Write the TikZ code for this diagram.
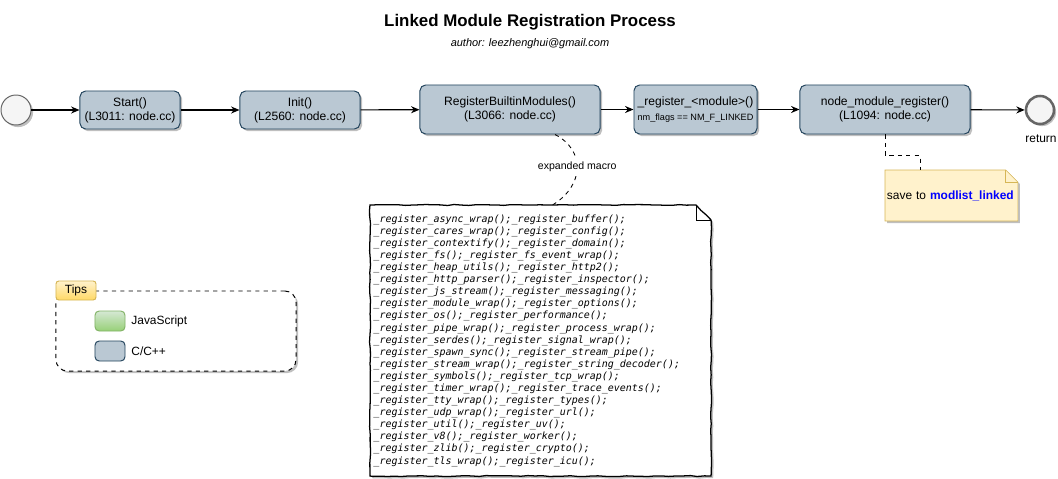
\documentclass[tikz,border=0pt]{standalone}
\usepackage{fontspec}
\setmainfont{Liberation Sans}
\setmonofont{DejaVu Sans Mono}
\usepackage{xcolor}
\usetikzlibrary{positioning, shapes, arrows.meta, calc, shadows, backgrounds, decorations.pathmorphing}

\definecolor{cfill}{HTML}{BAC8D3}
\definecolor{cline}{HTML}{23445D}
\definecolor{jstop}{HTML}{D5E8D4}
\definecolor{jsbot}{HTML}{97D077}
\definecolor{jsline}{HTML}{82B366}
\definecolor{notefill}{HTML}{FFF2CC}
\definecolor{noteline}{HTML}{D6B656}
\definecolor{tabbot}{HTML}{FFD966}
\definecolor{circline}{HTML}{666666}
\definecolor{circfill}{HTML}{F5F5F5}

\newcommand{\rg}[1]{\_register\_#1();}

\begin{document}
\begin{tikzpicture}[x=0.025cm, y=-0.025cm, line width=0.7pt,
    sketch/.style={decorate, decoration={random steps, segment length=5pt, amplitude=0.35pt}},
    shade/.style={drop shadow={shadow xshift=1.5pt, shadow yshift=-1.5pt, opacity=0.25, fill=black}},
    func/.style={draw=cline, fill=cfill, rounded corners=4pt, shade, align=center,
      inner sep=0pt, font=\fontsize{8.6}{10}\selectfont},
    flow/.style={-{Stealth[length=6pt, width=5pt]}, line width=0.8pt},
    txt/.style={inner sep=1pt, font=\fontsize{8.5}{10}\selectfont}]
    \useasboundingbox (0,0) rectangle (1058,479);

    % title
    \node[font=\fontsize{12}{14}\selectfont\bfseries] (title) at (530,22) {Linked Module Registration Process};
    \node[font=\fontsize{7.8}{9}\selectfont\itshape] (author) at (530,44) {author: leezhenghui@gmail.com};

    % main call chain
    \node[circle, draw=circline, fill=circfill, minimum size=0.75cm, shade] (begin) at (16,110) {};
    \node[func, minimum width=2.5cm, minimum height=0.95cm] (start) at (130,110) {Start()\\(L3011: node.cc)};
    \node[func, minimum width=3cm, minimum height=0.95cm] (init) at (300,110) {Init()\\(L2560: node.cc)};
    \node[func, minimum width=4.5cm, minimum height=1.225cm] (rbm) at (510,109.5) {RegisterBuiltinModules()\\(L3066: node.cc)};
    \node[func, minimum width=3.075cm, minimum height=1.225cm] (reg) at (695.5,109.5)
      {\_register\_<module>()\\[1pt]{\fontsize{6.5}{8}\selectfont nm\_flags == NM\_F\_LINKED}};
    \node[func, minimum width=4.25cm, minimum height=1.225cm] (nmr) at (885,109.5) {node\_module\_register()\\(L1094: node.cc)};
    \node[circle, draw=circline, line width=1.8pt, fill=circfill, minimum size=0.7cm, shade] (ret) at (1040,110) {};
    \node[txt] (retlbl) at (1041,139) {return};

    \draw[flow] (begin) -- (start);
    \draw[flow] (start) -- (init);
    \draw[flow] (init) -- (rbm);
    \draw[flow] (rbm) -- (reg);
    \draw[flow] (reg) -- (nmr);
    \draw[flow] (nmr) -- (ret);

    % expanded macro note
    \node[anchor=north west, text width=8.35cm, inner xsep=0.075cm, inner ysep=0pt,
      minimum height=6.75cm, align=left, font=\fontsize{7.1}{8.6}\selectfont\ttfamily\itshape] (macros) at (370,205)
      {\rg{async\_wrap}\rg{buffer}\\
       \rg{cares\_wrap}\rg{config}\\
       \rg{contextify}\rg{domain}\\
       \rg{fs}\rg{fs\_event\_wrap}\\
       \rg{heap\_utils}\rg{http2}\\
       \rg{http\_parser}\rg{inspector}\\
       \rg{js\_stream}\rg{messaging}\\
       \rg{module\_wrap}\rg{options}\\
       \rg{os}\rg{performance}\\
       \rg{pipe\_wrap}\rg{process\_wrap}\\
       \rg{serdes}\rg{signal\_wrap}\\
       \rg{spawn\_sync}\rg{stream\_pipe}\\
       \rg{stream\_wrap}\rg{string\_decoder}\\
       \rg{symbols}\rg{tcp\_wrap}\\
       \rg{timer\_wrap}\rg{trace\_events}\\
       \rg{tty\_wrap}\rg{types}\\
       \rg{udp\_wrap}\rg{url}\\
       \rg{util}\rg{uv}\\
       \rg{v8}\rg{worker}\\
       \rg{zlib}\rg{crypto}\\
       \rg{tls\_wrap}\rg{icu}};
    \begin{scope}[on background layer]
      \draw[sketch, line width=0.9pt, fill=white, shade] (macros.north west) -- ($(macros.north east)+(-15,0)$)
        -- ($(macros.north east)+(0,15)$) -- (macros.south east) -- (macros.south west) -- cycle;
    \end{scope}
    \draw[line width=0.6pt] ($(macros.north east)+(-15,0)$) |- ($(macros.north east)+(0,15)$);

    \draw[dashed, line width=0.6pt] ($(rbm.south)+(45,0)$) .. controls (585,150) and (585,185) .. ($(macros.north)+(12,0)$)
      node[pos=0.48, fill=white, inner sep=1.5pt, font=\fontsize{7.5}{9}\selectfont] (macrolbl) {expanded macro};

    % save note
    \node[anchor=north west, text width=3.225cm, inner xsep=0.075cm, minimum height=1.25cm, align=left, txt] (save) at (885,170)
      {save to \textcolor{blue}{\bfseries modlist\_linked}};
    \begin{scope}[on background layer]
      \draw[draw=noteline, fill=notefill, shade] (save.north west) -- ($(save.north east)+(-12,0)$)
        -- ($(save.north east)+(0,12)$) -- (save.south east) -- (save.south west) -- cycle;
    \end{scope}
    \draw[draw=noteline] ($(save.north east)+(-12,0)$) |- ($(save.north east)+(0,12)$);
    \draw[dashed, line width=0.6pt] (nmr.south) -- ++(0,21) -| ($(save.north west)+(35,0)$);

    % tips
    \node[draw, dashed, rounded corners=8pt, minimum width=6cm, minimum height=2cm, shade, fill=white] (tips) at (176,331) {};
    \node[draw=noteline, top color=notefill, bottom color=tabbot, rounded corners=2pt, minimum width=1cm,
      minimum height=0.475cm, inner sep=0pt, txt] (tipstab) at (76,290.5) {Tips};
    \node[draw=jsline, top color=jstop, bottom color=jsbot, rounded corners=3pt, minimum width=0.75cm, minimum height=0.5cm] (js) at (110,321) {};
    \node[draw=cline, fill=cfill, rounded corners=3pt, minimum width=0.75cm, minimum height=0.5cm] (cc) at (110,351) {};
    \node[txt, right=0.1cm of js] (jslbl) {JavaScript};
    \node[txt, right=0.1cm of cc] (cclbl) {C/C++};
\end{tikzpicture}
\end{document}
